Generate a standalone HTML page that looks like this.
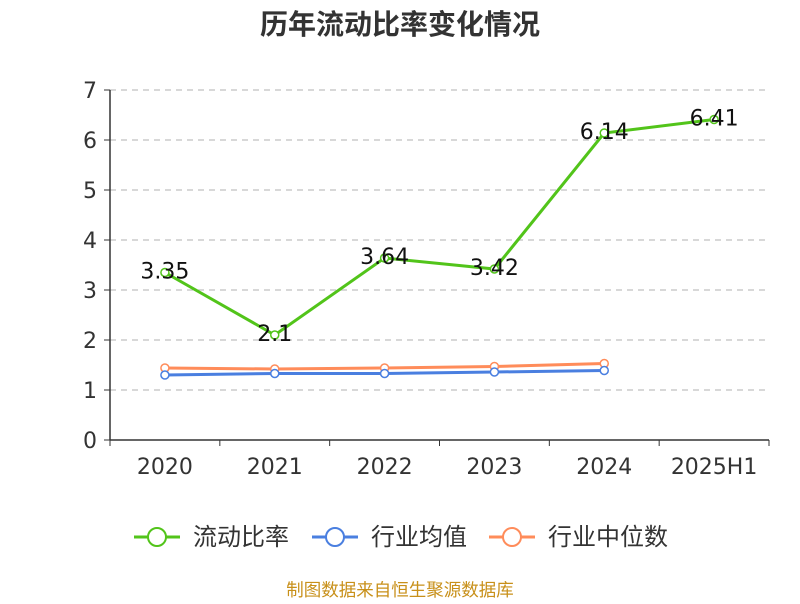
<!DOCTYPE html>
<html><head><meta charset="utf-8"><style>
body{margin:0;background:#fff;font-family:"DejaVu Sans","Noto Sans CJK SC",sans-serif;}
</style></head><body>
<svg width="800" height="600" xmlns="http://www.w3.org/2000/svg" font-family="DejaVu Sans, Noto Sans CJK SC, sans-serif">
<text x="400" y="34" text-anchor="middle" font-size="28" font-weight="bold" fill="#333" font-family="Noto Sans CJK SC, sans-serif">历年流动比率变化情况</text>
<g id="grid"></g><g id="axes"></g><g id="series"></g>
<g font-size="24" fill="#333" font-family="Noto Sans CJK SC, sans-serif">
 <g><line x1="134" y1="537" x2="180" y2="537" stroke="#52c41a" stroke-width="3"/><circle cx="157" cy="537" r="9" fill="#fff" stroke="#52c41a" stroke-width="2"/><text x="193" y="545">流动比率</text></g>
 <g><line x1="312" y1="537" x2="358" y2="537" stroke="#4a7fe0" stroke-width="3"/><circle cx="335" cy="537" r="9" fill="#fff" stroke="#4a7fe0" stroke-width="2"/><text x="371" y="545">行业均值</text></g>
 <g><line x1="489" y1="537" x2="535" y2="537" stroke="#ff8c5a" stroke-width="3"/><circle cx="512" cy="537" r="9" fill="#fff" stroke="#ff8c5a" stroke-width="2"/><text x="548" y="545">行业中位数</text></g>
</g>
<text x="400" y="596" text-anchor="middle" font-size="17.5" fill="#c8901a" font-family="Noto Sans CJK SC, sans-serif">制图数据来自恒生聚源数据库</text>
</svg>
<script>
const categories=["2020","2021","2022","2023","2024","2025H1"];
const currentRatio=[3.35,2.1,3.64,3.42,6.14,6.41];
const industryMean=[1.30,1.33,1.33,1.36,1.39];
const industryMedian=[1.44,1.42,1.44,1.47,1.53];
const yTicks=[0,1,2,3,4,5,6,7];
const NS="http://www.w3.org/2000/svg";
const x0=110,x1=769,y0=440,yTop=90,yMax=7;
const bw=(x1-x0)/categories.length;
const xs=i=>x0+bw*(i+0.5);
const ys=v=>y0-(v/yMax)*(y0-yTop);
function mk(tag,attrs,parent){const e=document.createElementNS(NS,tag);for(const k in attrs)e.setAttribute(k,attrs[k]);parent.appendChild(e);return e;}
const grid=document.getElementById('grid'),axes=document.getElementById('axes'),ser=document.getElementById('series');
yTicks.forEach(t=>{
 if(t>0){const l=mk('line',{x1:x0,x2:x1,y1:ys(t),y2:ys(t),stroke:'#ccc','stroke-dasharray':'6,5','stroke-width':1.5},grid);
 
 }
 const tk=mk('line',{x1:x0-6,x2:x0,y1:ys(t),y2:ys(t),stroke:'#333'},axes);
 
 
 const tx=mk('text',{x:x0-13,y:ys(t)+8,'text-anchor':'end','font-size':22,fill:'#333'},axes);tx.textContent=t;
 
 
});
let a=mk('line',{x1:x0,x2:x0,y1:yTop,y2:y0,stroke:'#333','stroke-width':1.5},axes);


a=mk('line',{x1:x0,x2:x1,y1:y0,y2:y0,stroke:'#333','stroke-width':1.5},axes);


for(let i=0;i<=categories.length;i++){const t=mk('line',{x1:x0+bw*i,x2:x0+bw*i,y1:y0,y2:y0+6,stroke:'#333'},axes);
 
 }
categories.forEach((c,i)=>{const t=mk('text',{x:xs(i),y:y0+34,'text-anchor':'middle','font-size':22,fill:'#333'},axes);t.textContent=c;
 
 });
function series(vals,color,name,labels){
 const g=mk('g',{},ser);
 
 
 mk('polyline',{points:vals.map((v,i)=>xs(i)+','+ys(v)).join(' '),fill:'none',stroke:color,'stroke-width':3},g);
 vals.forEach((v,i)=>{const c=mk('circle',{cx:xs(i),cy:ys(v),r:4,fill:'#fff',stroke:color,'stroke-width':1.5},g);
  
  
  if(labels){const t=mk('text',{x:xs(i),y:ys(v)+6,'text-anchor':'middle','font-size':22,fill:'#111'},g);t.textContent=v;
   
   }});
}
series(industryMedian,'#ff8c5a','industry-median-line',false);
series(industryMean,'#4a7fe0','industry-mean-line',false);
series(currentRatio,'#52c41a','current-ratio-line',true);
</script>
</body></html>
